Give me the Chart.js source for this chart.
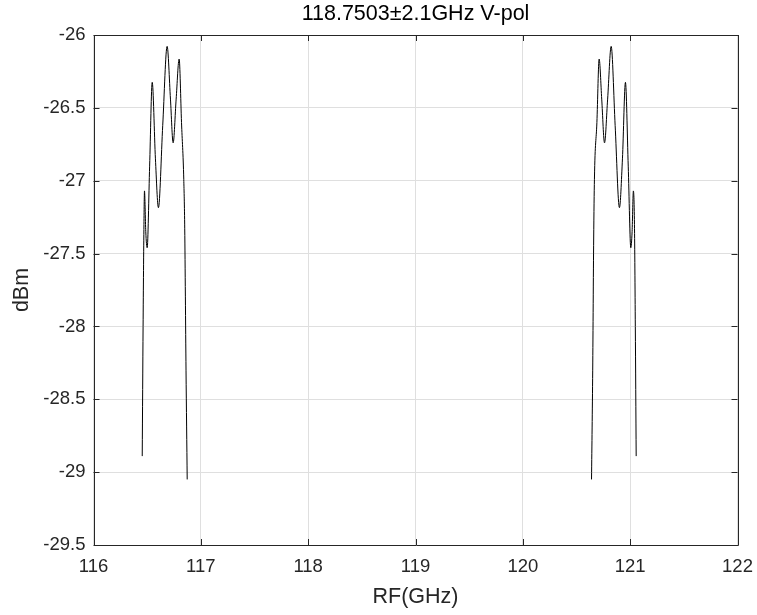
<!DOCTYPE html>
<html>
<head>
<meta charset="utf-8">
<script src="https://cdn.jsdelivr.net/npm/chart.js@4/dist/chart.umd.min.js"></script>
<style>
  html, body { margin: 0; padding: 0; background: #fff; }
  #wrap { width: 757px; height: 615px; }
</style>
</head>
<body>
<div id="wrap"><canvas id="myChart" width="757" height="615"></canvas></div>
<script>
// lower sideband (GHz, dBm)
const lowerFreq = [116.454, 116.462, 116.470, 116.475, 116.487, 116.500, 116.523, 116.547, 116.577, 116.605,
  116.645, 116.686, 116.717, 116.742, 116.770, 116.798, 116.820, 116.841, 116.850, 116.862, 116.873];
const lowerPower = [-28.89, -28.0, -27.3, -27.07, -27.35, -27.46, -26.9, -26.325, -26.85, -27.185,
  -26.62, -26.078, -26.44, -26.74, -26.44, -26.165, -26.6, -26.99, -27.33, -28.3, -29.05];

// upper sideband
const upperFreq = [120.640, 120.651, 120.660, 120.667, 120.690, 120.711, 120.735, 120.761, 120.790, 120.823,
  120.860, 120.900, 120.928, 120.956, 120.982, 121.006, 121.018, 121.030, 121.040, 121.048, 121.056];
const upperPower = [-29.05, -28.3, -27.4, -26.99, -26.6, -26.165, -26.44, -26.74, -26.44, -26.078,
  -26.62, -27.185, -26.85, -26.325, -26.9, -27.46, -27.35, -27.07, -27.3, -28.0, -28.89];

const xTicks = [116, 117, 118, 119, 120, 121, 122];
const yTicks = [-29.5, -29, -28.5, -28, -27.5, -27, -26.5, -26];
const titleText = "118.7503±2.1GHz V-pol";

const axisColor = "#262626";
const fontFamily = "'Liberation Sans', Arial, sans-serif";

const toPoints = (xs, ys) => xs.map((x, i) => ({ x: x, y: ys[i] }));

// MATLAB style box with inward tick marks, title centred over the axes
const boxTicks = {
  id: "boxTicks",
  afterDatasetsDraw(chart) {
    const { ctx, chartArea: a, scales } = chart;
    const len = 6;
    ctx.save();
    ctx.strokeStyle = axisColor;
    ctx.lineWidth = 1;
    ctx.beginPath();
    ctx.rect(Math.round(a.left) + 0.5, Math.round(a.top) + 0.5,
      Math.round(a.right - a.left), Math.round(a.bottom - a.top));
    xTicks.forEach((v) => {
      const px = Math.round(scales.x.getPixelForValue(v)) + 0.5;
      ctx.moveTo(px, a.bottom); ctx.lineTo(px, a.bottom - len);
      ctx.moveTo(px, a.top); ctx.lineTo(px, a.top + len);
    });
    yTicks.forEach((v) => {
      const py = Math.round(scales.y.getPixelForValue(v)) + 0.5;
      ctx.moveTo(a.left, py); ctx.lineTo(a.left + len, py);
      ctx.moveTo(a.right, py); ctx.lineTo(a.right - len, py);
    });
    ctx.stroke();

    ctx.fillStyle = "#000";
    ctx.font = "21.5px " + fontFamily;
    ctx.textAlign = "center";
    ctx.textBaseline = "middle";
    ctx.fillText(titleText, (a.left + a.right) / 2, 14);
    ctx.restore();
  },
};

const ctx = document.getElementById("myChart").getContext("2d");
const myChart = new Chart(ctx, {
  type: "line",
  data: {
    datasets: [
      {
        label: "lower",
        data: toPoints(lowerFreq, lowerPower),
        borderColor: "#000",
        borderWidth: 1,
        pointRadius: 0,
        cubicInterpolationMode: "monotone",
        fill: false,
      },
      {
        label: "upper",
        data: toPoints(upperFreq, upperPower),
        borderColor: "#000",
        borderWidth: 1,
        pointRadius: 0,
        cubicInterpolationMode: "monotone",
        fill: false,
      },
    ],
  },
  options: {
    responsive: false,
    animation: false,
    devicePixelRatio: 1,
    layout: { padding: { left: 0, right: 19.5, top: 35, bottom: 0 } },
    plugins: {
      legend: { display: false },
      tooltip: { enabled: false },
      title: { display: false },
    },
    scales: {
      x: {
        type: "linear",
        min: 116,
        max: 122,
        afterBuildTicks: (scale) => { scale.ticks = xTicks.map((v) => ({ value: v })); },
        afterFit: (scale) => {
          scale.height = 70;
          scale.paddingLeft = 0;
          scale.paddingRight = 0;
        },
        grid: { color: "#dfdfdf", drawTicks: false },
        border: { display: false },
        ticks: {
          color: axisColor,
          padding: 10.5,
          maxRotation: 0,
          font: { family: fontFamily, size: 18.5 },
        },
        title: {
          display: true,
          text: "RF(GHz)",
          color: axisColor,
          font: { family: fontFamily, size: 21.5 },
          padding: { top: 0, bottom: 5 },
        },
      },
      y: {
        type: "linear",
        min: -29.5,
        max: -26,
        afterBuildTicks: (scale) => { scale.ticks = yTicks.map((v) => ({ value: v })); },
        afterFit: (scale) => {
          scale.width = 93.5;
          scale.paddingTop = 0;
          scale.paddingBottom = 0;
        },
        grid: { color: "#dfdfdf", drawTicks: false },
        border: { display: false },
        ticks: {
          color: axisColor,
          padding: 8,
          font: { family: fontFamily, size: 18.5 },
          callback: (v) => String(v),
        },
        title: {
          display: true,
          text: "dBm",
          color: axisColor,
          font: { family: fontFamily, size: 21.5 },
          padding: { top: 9, bottom: 0 },
        },
      },
    },
  },
  plugins: [boxTicks],
});
</script>
</body>
</html>
